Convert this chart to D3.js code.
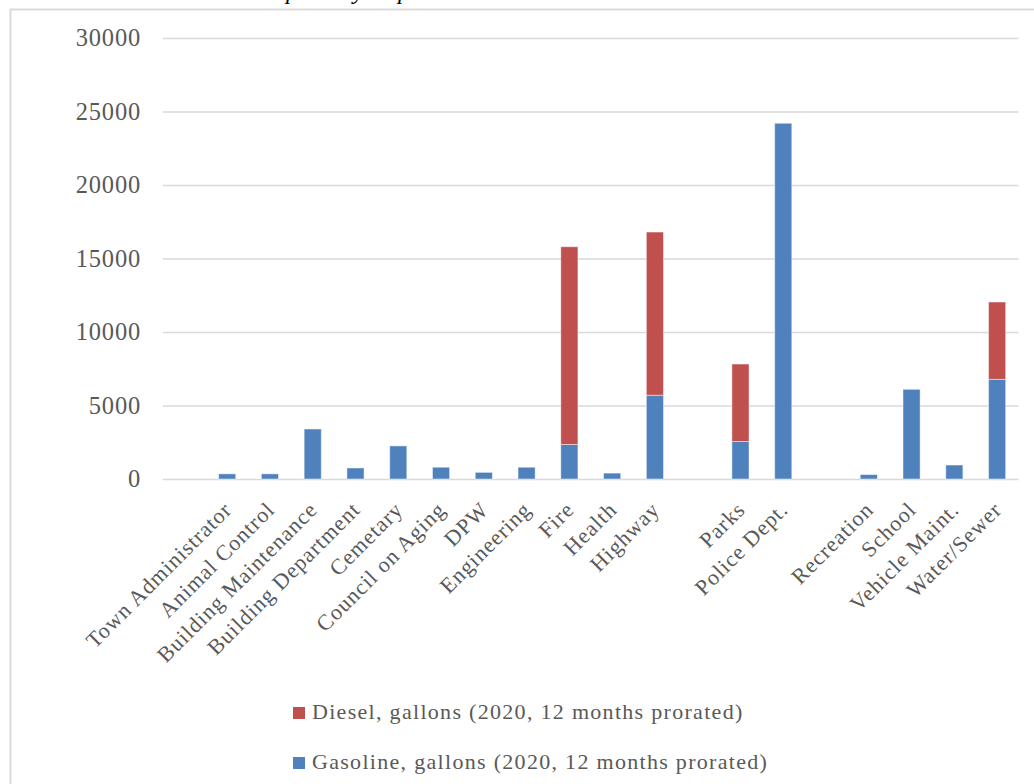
<!DOCTYPE html>
<html>
<head>
<meta charset="utf-8">
<script src="https://cdn.jsdelivr.net/npm/d3@7"></script>
<style>
  html, body { margin: 0; padding: 0; background: #ffffff; }
  svg { display: block; }
  text { font-family: "Liberation Serif", "Times New Roman", serif; }
</style>
</head>
<body>
<svg id="chart" width="1034" height="784"></svg>
<script>
// Departments (blank entries are empty slots on the category axis)
const categories = ["", "Town Administrator", "Animal Control", "Building Maintenance",
  "Building Department", "Cemetary", "Council on Aging", "DPW", "Engineering", "Fire",
  "Health", "Highway", "", "Parks", "Police Dept.", "", "Recreation", "School",
  "Vehicle Maint.", "Water/Sewer"];

// Gallons per department, 2020 (12 months prorated)
const gasoline = [0, 350, 350, 3400, 750, 2250, 800, 450, 800, 2350,
  400, 5700, 0, 2550, 24200, 0, 300, 6100, 950, 6780];
const diesel = [0, 0, 0, 0, 0, 0, 0, 0, 0, 13450,
  0, 11100, 0, 5270, 0, 0, 0, 0, 0, 5260];

const yTicks = [0, 5000, 10000, 15000, 20000, 25000, 30000];

const seriesNames = ["Diesel, gallons (2020, 12 months prorated)",
  "Gasoline, gallons (2020, 12 months prorated)"];
const seriesColors = { gasoline: "#4F81BD", diesel: "#C0504D" };

const svg = d3.select("#chart");
const plot = { left: 163, right: 1018.5, top: 38, bottom: 479 };

const x = d3.scaleBand()
  .domain(d3.range(categories.length))
  .range([plot.left, plot.right])
  .paddingInner(0).paddingOuter(0);

const y = d3.scaleLinear()
  .domain([0, 30000])
  .range([plot.bottom, plot.top]);

const barW = x.bandwidth() * 0.4;

// Title above the chart frame
const titleText = "Fuel Consumption by Department";
const title = svg.append("text")
  .attr("y", -1.5)
  .attr("font-size", 24)
  .attr("font-style", "italic")
  .attr("fill", "#000");
title.text("Fuel Consum");
const prefixW = title.node().getComputedTextLength();
title.text(titleText).attr("x", 286 - prefixW);

// Chart frame
svg.append("rect")
  .attr("x", 10.5).attr("y", 9.5)
  .attr("width", 1040).attr("height", 800)
  .attr("fill", "none")
  .attr("stroke", "#D9D9D9")
  .attr("stroke-width", 2);

// Horizontal gridlines and value labels
const yAxis = d3.axisLeft(y)
  .tickValues(yTicks)
  .tickSize(-(plot.right - plot.left))
  .tickPadding(22)
  .tickFormat(d3.format("d"));

const gy = svg.append("g")
  .attr("transform", `translate(${plot.left},0)`)
  .call(yAxis);
gy.select(".domain").remove();
gy.selectAll(".tick line")
  .attr("stroke", "#D9D9D9")
  .attr("stroke-width", 1.6);
gy.selectAll(".tick text")
  .attr("fill", "#595959")
  .attr("font-size", 24.5)
  .attr("letter-spacing", "0.8px")
  .style("font-family", "'Liberation Serif', serif");

// Stacked bars: gasoline at the base, diesel on top
const stacked = categories.map((c, i) => ({ i, gasoline: gasoline[i], diesel: diesel[i] }));
const stack = d3.stack().keys(["gasoline", "diesel"])(stacked);

svg.append("g").selectAll("g")
  .data(stack)
  .join("g")
  .attr("fill", d => seriesColors[d.key])
  .selectAll("rect")
  .data(d => d.filter(s => s[1] - s[0] > 0))
  .join("rect")
  .attr("x", d => x(d.data.i) + (x.bandwidth() - barW) / 2)
  .attr("width", barW)
  .attr("y", d => y(d[1]))
  .attr("height", d => y(d[0]) - y(d[1]))
  .attr("stroke", "rgba(255,255,255,0.45)")
  .attr("stroke-width", 1);

// Category labels, rotated
const gx = svg.append("g");
gx.selectAll("text")
  .data(categories.map((c, i) => ({ c, i })).filter(d => d.c))
  .join("text")
  .attr("transform", d => `translate(${x(d.i) + x.bandwidth() / 2 + 6},${511}) rotate(-45)`)
  .attr("text-anchor", "end")
  .attr("font-size", 22)
  .attr("letter-spacing", "1px")
  .attr("fill", "#595959")
  .text(d => d.c);

// Legend
const legendItems = [
  { name: seriesNames[0], color: seriesColors.diesel, y: 707 },
  { name: seriesNames[1], color: seriesColors.gasoline, y: 757 }
];
const lg = svg.append("g").selectAll("g").data(legendItems).join("g");
lg.append("rect")
  .attr("x", 293).attr("y", d => d.y)
  .attr("width", 12).attr("height", 12)
  .attr("fill", d => d.color);
lg.append("text")
  .attr("x", 312).attr("y", d => d.y + 12)
  .attr("font-size", 22)
  .attr("letter-spacing", "1.3px")
  .attr("fill", "#595959")
  .text(d => d.name);
</script>
</body>
</html>
